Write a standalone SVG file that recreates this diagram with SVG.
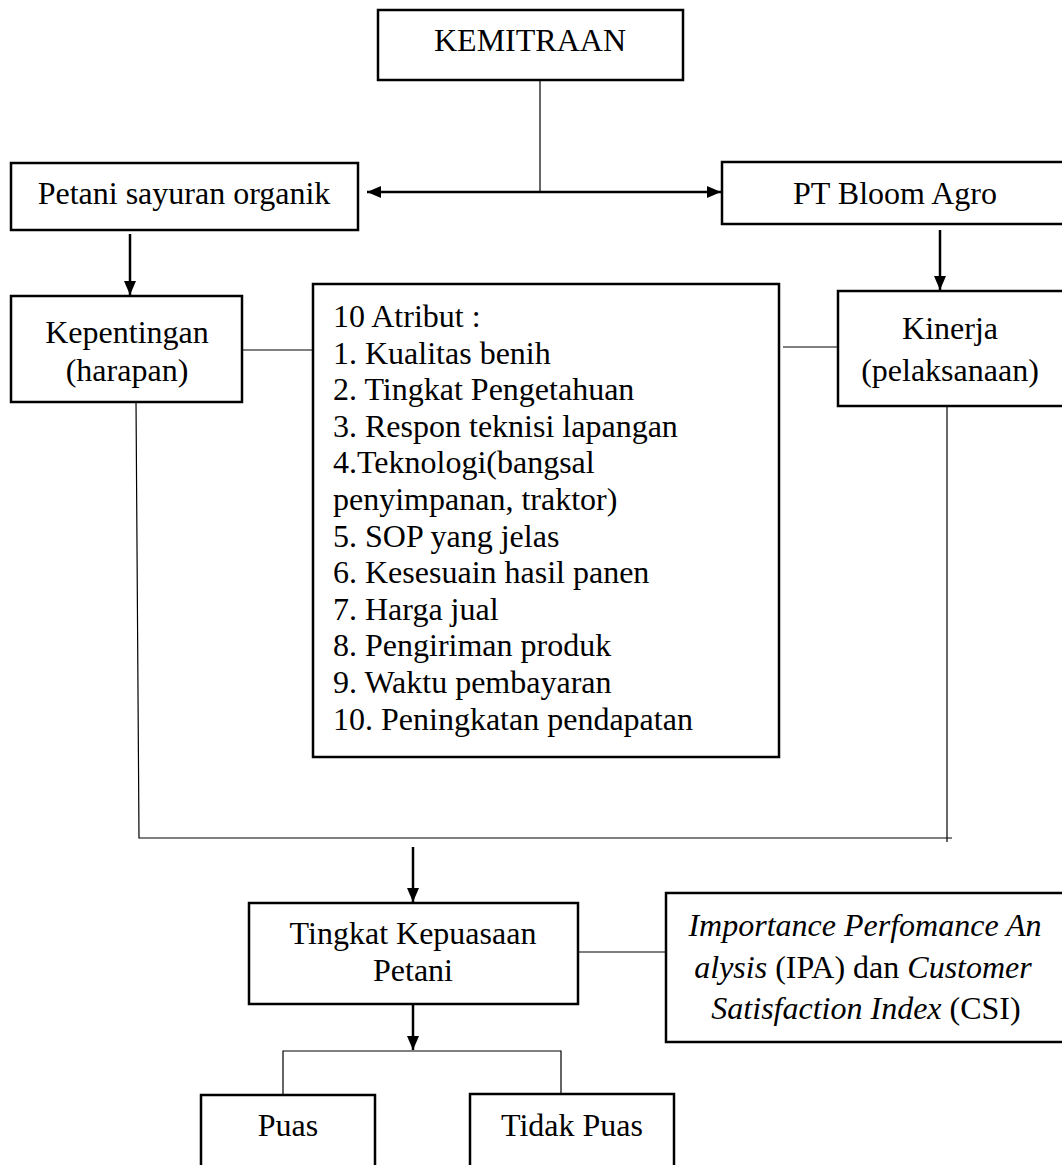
<svg xmlns="http://www.w3.org/2000/svg" width="1062" height="1165" viewBox="0 0 1062 1165">
<style>
text{font-family:"Liberation Serif","Times New Roman",serif;font-size:32px;fill:#000}
.c{text-anchor:middle}
.box{fill:#fff;stroke:#000;stroke-width:2.5}
.ln{fill:none;stroke:#000;stroke-width:1.2}
.ar{fill:none;stroke:#000;stroke-width:2.5}
</style>
<defs>
<marker id="ah" viewBox="0 0 14 12" refX="14" refY="6" markerWidth="14" markerHeight="12" markerUnits="userSpaceOnUse" orient="auto-start-reverse">
<path d="M0,0 L14,6 L0,12 Z" fill="#000"/>
</marker>
</defs>
<g id="connectors">
<line class="ln" x1="540" y1="80" x2="540" y2="192"/>
<line class="ar" x1="367" y1="192" x2="721" y2="192" marker-start="url(#ah)" marker-end="url(#ah)"/>
<line class="ar" x1="130" y1="234" x2="130" y2="295" marker-end="url(#ah)"/>
<line class="ar" x1="940" y1="230" x2="940" y2="290" marker-end="url(#ah)"/>
<line class="ln" x1="242" y1="350" x2="313" y2="350"/>
<line class="ln" x1="783" y1="347" x2="838" y2="347"/>
<polyline class="ln" points="136,400 139,838 952,838"/>
<line class="ln" x1="947" y1="406" x2="947" y2="842"/>
<line class="ar" x1="413" y1="847" x2="413" y2="902" marker-end="url(#ah)"/>
<line class="ln" x1="578" y1="952" x2="666" y2="952"/>
<line class="ar" x1="413" y1="992" x2="413" y2="1050" marker-end="url(#ah)"/>
<polyline class="ln" points="283,1094 283,1051 561,1051 561,1094"/>
</g>
<g id="kemitraan">
<rect class="box" x="378" y="10" width="305" height="70"/>
<text class="c" x="530" y="51">KEMITRAAN</text>
</g>
<g id="petani">
<rect class="box" x="11" y="163" width="347" height="67"/>
<text class="c" x="184" y="204">Petani sayuran organik</text>
</g>
<g id="bloom">
<rect class="box" x="722" y="162" width="350" height="62"/>
<text class="c" x="895" y="204">PT Bloom Agro</text>
</g>
<g id="kepentingan">
<rect class="box" x="11" y="296" width="231" height="106"/>
<text class="c" x="127" y="343">Kepentingan</text>
<text class="c" x="127" y="381">(harapan)</text>
</g>
<g id="atribut">
<rect class="box" x="313" y="284" width="466" height="473"/>
<text x="333" y="327">10 Atribut :</text>
<text x="333" y="363.6">1. Kualitas benih</text>
<text x="333" y="400.2">2. Tingkat Pengetahuan</text>
<text x="333" y="436.8">3. Respon teknisi lapangan</text>
<text x="333" y="473.4">4.Teknologi(bangsal</text>
<text x="333" y="510">penyimpanan, traktor)</text>
<text x="333" y="546.6">5. SOP yang jelas</text>
<text x="333" y="583.2">6. Kesesuain hasil panen</text>
<text x="333" y="619.8">7. Harga jual</text>
<text x="333" y="656.4">8. Pengiriman produk</text>
<text x="333" y="693">9. Waktu pembayaran</text>
<text x="333" y="729.6">10. Peningkatan pendapatan</text>
</g>
<g id="kinerja">
<rect class="box" x="838" y="291" width="234" height="115"/>
<text class="c" x="950" y="339">Kinerja</text>
<text class="c" x="950" y="381">(pelaksanaan)</text>
</g>
<g id="kepuasaan">
<rect class="box" x="249" y="903" width="329" height="101"/>
<text class="c" x="413" y="944">Tingkat Kepuasaan</text>
<text class="c" x="413" y="981">Petani</text>
</g>
<g id="ipa">
<rect class="box" x="666" y="893" width="406" height="149"/>
<text class="c" x="865" y="936"><tspan font-style="italic">Importance Perfomance An</tspan></text>
<text class="c" x="863" y="978"><tspan font-style="italic">alysis</tspan> (IPA) dan <tspan font-style="italic">Customer</tspan></text>
<text class="c" x="866" y="1019"><tspan font-style="italic">Satisfaction Index</tspan> (CSI)</text>
</g>
<g id="puas">
<rect class="box" x="201" y="1095" width="174" height="90"/>
<text class="c" x="288" y="1136">Puas</text>
</g>
<g id="tidakpuas">
<rect class="box" x="470" y="1094" width="204" height="90"/>
<text class="c" x="572" y="1136">Tidak Puas</text>
</g>
</svg>
